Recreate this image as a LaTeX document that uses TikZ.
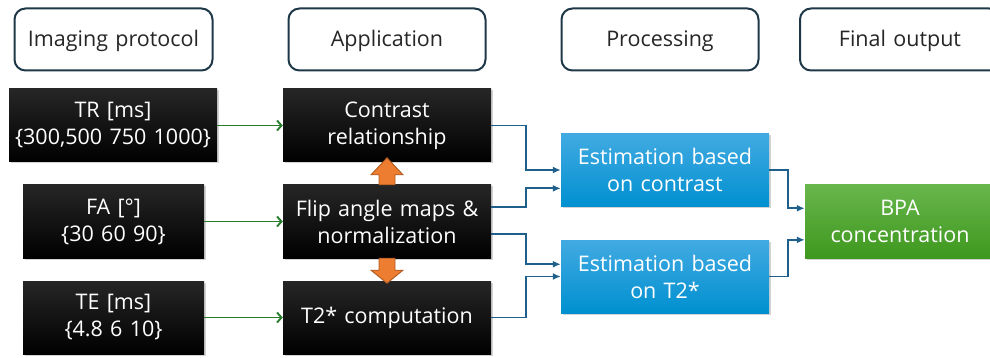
\documentclass[tikz,border=0pt]{standalone}
\usepackage{fontspec}
\setmainfont{Open Sans}[WordSpace={1.3}]
\usetikzlibrary{calc,arrows.meta,shadows}
\definecolor{hdrline}{RGB}{31,56,72}
\definecolor{blktop}{RGB}{38,38,38}
\definecolor{bluetop}{RGB}{66,170,226}
\definecolor{bluebot}{RGB}{0,144,208}
\definecolor{greentop}{RGB}{104,182,76}
\definecolor{greenbot}{RGB}{62,152,30}
\definecolor{conblue}{RGB}{31,95,139}
\definecolor{congreen}{RGB}{40,125,45}
\definecolor{orfill}{RGB}{237,125,49}
\definecolor{orline}{RGB}{174,90,33}
\tikzset{
  txt/.style={font=\fontsize{21.5}{27}\selectfont, align=center, inner sep=0pt},
  hdrbox/.style={txt, draw=hdrline, line width=2pt, rounded corners=11pt, fill=white, text=black!85, minimum height=62pt, text depth=2pt},
  blkbox/.style={txt, text=white, top color=blktop, bottom color=black, minimum height=73pt,
     drop shadow={opacity=0.35, shadow xshift=1.5pt, shadow yshift=-1.5pt}},
  bluebox/.style={txt, text=white, top color=bluetop, bottom color=bluebot, minimum width=208pt, minimum height=73pt,
     drop shadow={opacity=0.35, shadow xshift=1.5pt, shadow yshift=-1.5pt}},
  greenbox/.style={txt, text=white, top color=greentop, bottom color=greenbot, minimum width=190pt, minimum height=73pt,
     drop shadow={opacity=0.35, shadow xshift=1.5pt, shadow yshift=-1.5pt}},
  bluecon/.style={draw=conblue, line width=1.9pt, -{Latex[length=8pt,width=7pt]}},
  greencon/.style={draw=congreen, line width=1.9pt, -{Straight Barb[length=4.5pt,width=10pt]}},
  blockarrow/.style={fill=orfill, draw=orline, line width=0.9pt, line join=miter},
}
\begin{document}
\begin{tikzpicture}[x=1pt,y=-1pt]
\useasboundingbox (0,0) rectangle (990,358);
\clip (0,0) rectangle (990,358);
% headers
\node[hdrbox, minimum width=198pt] (h1) at (113.5,39.5) {Imaging protocol};
\node[hdrbox, minimum width=197pt] (h2) at (387,39.5) {Application};
\node[hdrbox, minimum width=197pt] (h3) at (660,39.5) {Processing};
\node[hdrbox, minimum width=200pt] (h4) at (900,39.5) {Final output};
% inputs
\node[blkbox, minimum width=208pt] (tr) at (113,125.5) {TR [ms]\\\{300,500 750 1000\}};
\node[blkbox, minimum width=181pt] (fa) at (113.5,221.5) {FA [°]\\\{30 60 90\}};
\node[blkbox, minimum width=181pt] (te) at (113.5,317.5) {TE [ms]\\\{4.8 6 10\}};
% application
\node[blkbox, minimum width=208pt] (con) at (387,125.5) {Contrast\\relationship};
\node[blkbox, minimum width=208pt] (flip) at (387,221.5) {Flip angle maps \&\\normalization};
\node[blkbox, minimum width=208pt] (t2) at (387,317.5) {T2* computation};
% processing
\node[bluebox] (est1) at (665,170) {Estimation based\\on contrast};
\node[bluebox] (est2) at (665,276.5) {Estimation based\\on T2*};
% output
\node[greenbox] (bpa) at (900,221.5) {BPA\\concentration};
% green connectors
\draw[greencon] (tr.east) -- (con.west);
\draw[greencon] (fa.east) -- (flip.west);
\draw[greencon] (te.east) -- (t2.west);
% blue connectors
\coordinate (f1) at ($(flip.north east)!0.3!(flip.south east)$);
\coordinate (f2) at ($(flip.north east)!0.67!(flip.south east)$);
\coordinate (e1b) at ($(est1.north west)!0.75!(est1.south west)$);
\coordinate (e2a) at ($(est2.north west)!0.333!(est2.south west)$);
\coordinate (b1) at ($(bpa.north west)!0.32!(bpa.south west)$);
\coordinate (b2) at ($(bpa.north west)!0.75!(bpa.south west)$);
\draw[bluecon] (con.east) -- ++(35,0) |- (est1.west);
\draw[bluecon] (f1) -- ++(35,0) |- (e1b);
\draw[bluecon] (f2) -- ++(35,0) |- (e2a);
\draw[bluecon] (t2.east) -- ++(35,0) |- (est2.west);
\draw[bluecon] (est1.east) -- ++(19,0) |- (b1);
\draw[bluecon] (est2.east) -- ++(19,0) |- (b2);
% orange block arrows
\draw[blockarrow] ($(flip.north)+(-8,0)$) -- ++(0,-10) -- ++(-8,0) -- ($(flip.north)+(0,-27)$)
  -- ($(flip.north)+(16,-10)$) -- ++(-8,0) -- ($(flip.north)+(8,0)$) -- cycle;
\draw[blockarrow] ($(flip.south)+(-8,0)$) -- ++(0,12) -- ++(-8,0) -- ($(flip.south)+(0,25)$)
  -- ($(flip.south)+(16,12)$) -- ++(-8,0) -- ($(flip.south)+(8,0)$) -- cycle;
\end{tikzpicture}
\end{document}
